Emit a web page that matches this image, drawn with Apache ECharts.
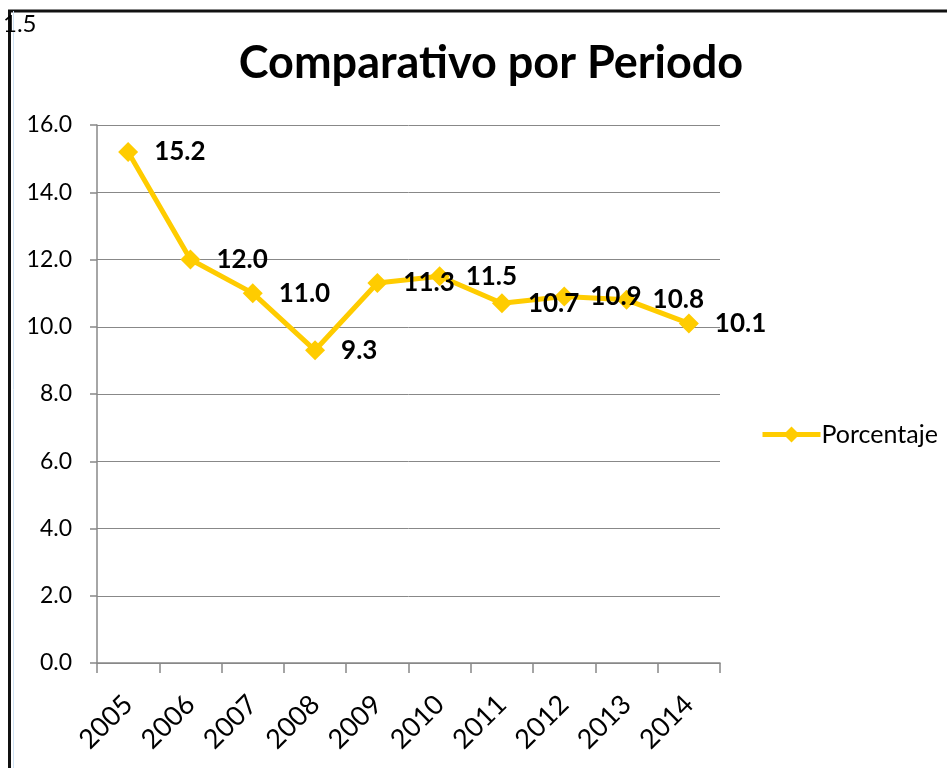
<!DOCTYPE html>
<html>
<head>
<meta charset="utf-8">
<style>
  html, body { margin: 0; padding: 0; background: #fff; }
  #chart { width: 947px; height: 768px; }
</style>
<script src="https://cdn.jsdelivr.net/npm/echarts@6/dist/echarts.min.js"></script>
</head>
<body>
<div id="chart"></div>
<script>
// Years on the category axis
const years = ['2005', '2006', '2007', '2008', '2009', '2010', '2011', '2012', '2013', '2014'];
// Percentage per period
const porcentaje = [15.2, 12.0, 11.0, 9.3, 11.3, 11.5, 10.7, 10.9, 10.8, 10.1];
// Value axis range
const yMin = 0;
const yMax = 16;
const yStep = 2;

const FONT = 'Lato, "Open Sans", sans-serif';
const chart = echarts.init(document.getElementById('chart'), null, { renderer: 'canvas' });

chart.setOption({
  animation: false,
  backgroundColor: '#fff',
  title: {
    text: 'Comparativo por Periodo',
    left: 486,
    textAlign: 'center',
    top: 36,
    textStyle: { fontFamily: FONT, fontSize: 45, fontWeight: 'bold', color: '#000' }
  },
  legend: {
    orient: 'vertical',
    left: 755,
    top: 417,
    itemWidth: 58,
    itemHeight: 20,
    itemGap: 4,
    lineStyle: { width: 5 },
    textStyle: { fontFamily: FONT, fontSize: 25, color: '#000', padding: [0, 0, 0, -4] },
    data: ['Porcentaje']
  },
  grid: { left: 97, right: 227, top: 125, bottom: 105, containLabel: false },
  xAxis: {
    type: 'category',
    data: years,
    boundaryGap: true,
    axisLine: { lineStyle: { color: '#888', width: 1.5 } },
    axisTick: { show: true, length: 10, lineStyle: { color: '#888', width: 1.5 } },
    axisLabel: {
      rotate: 45,
      margin: 37,
      interval: 0,
      fontFamily: FONT,
      fontSize: 27,
      color: '#000'
    },
    splitLine: { show: false }
  },
  yAxis: {
    type: 'value',
    min: yMin,
    max: yMax,
    interval: yStep,
    axisLine: { show: true, lineStyle: { color: '#888', width: 1.5 } },
    axisTick: { show: true, length: 7, lineStyle: { color: '#888', width: 1.5 } },
    axisLabel: {
      margin: 25,
      fontFamily: FONT,
      fontSize: 23,
      color: '#000',
      formatter: v => v.toFixed(1)
    },
    splitLine: { show: true, lineStyle: { color: '#888', width: 1 } }
  },
  series: [{
    name: 'Porcentaje',
    type: 'line',
    data: porcentaje,
    symbol: 'diamond',
    symbolSize: 20,
    lineStyle: { color: '#FFCC00', width: 5 },
    itemStyle: { color: '#FFCC00' },
    label: {
      show: true,
      position: 'right',
      distance: 16,
      fontFamily: FONT,
      fontSize: 26,
      fontWeight: 'bold',
      color: '#000',
      formatter: p => p.value.toFixed(1)
    }
  }],
  graphic: [
    // frame edges of the sheet
    { type: 'line', shape: { x1: 8, y1: 11, x2: 947, y2: 11 }, style: { stroke: '#111', lineWidth: 3 } },
    { type: 'line', shape: { x1: 9.5, y1: 11, x2: 9.5, y2: 768 }, style: { stroke: '#111', lineWidth: 3 } },
    { type: 'line', shape: { x1: 13.5, y1: 11, x2: 13.5, y2: 768 }, style: { stroke: '#cfe2f3', lineWidth: 1 } },
    { type: 'text', left: 3, top: 12, style: { text: '1.5', font: '24px ' + FONT, fill: '#000' } }
  ]
});
</script>
</body>
</html>
